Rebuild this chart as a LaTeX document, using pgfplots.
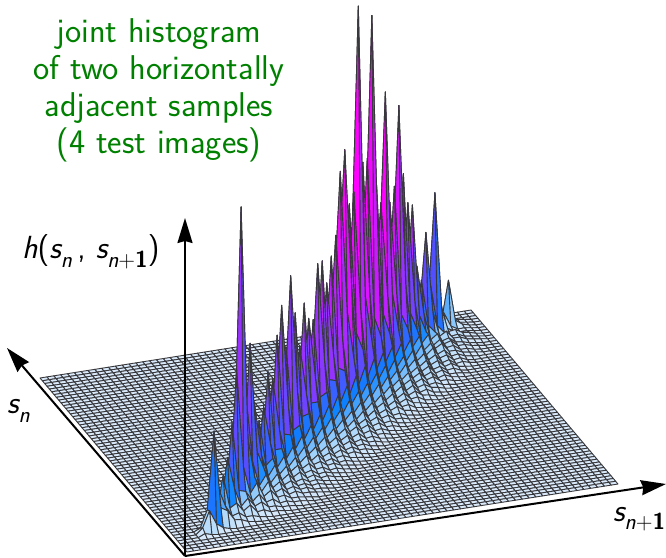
\documentclass[border=0pt]{standalone}
\usepackage{fontspec}
\usepackage{pgfplots}
\pgfplotsset{compat=1.18}
\usetikzlibrary{arrows.meta}
\definecolor{titlegreen}{RGB}{0,128,0}
\definecolor{meshline}{RGB}{56,56,60}
\newcommand\R[2]{\foreach \v [count=\k from 0] in {#2}{%
  \expandafter\xdef\csname zv-\the\numexpr#1-2+\k\relax-#1\endcsname{\v}}}
% rows: j, then heights at i = j-2, j-1, j, j+1, ...
\R{4}{0,0,3,1,0}
\R{5}{0,6,22,8,3,1,0}
\R{6}{3,20,98,20,16,6,5,2,1,0}
\R{7}{1,5,36,18,7,9,4,4,2,1,0}
\R{8}{1,6,45,12,16,7,12,4,5,2,2,1,0}
\R{9}{2,8,60,28,9,16,7,10,4,4,2,2,1,0}
\R{10}{2,12,90,22,20,9,15,6,8,3,4,2,2,1,0}
\R{11}{4,20,140,42,14,24,9,14,6,7,3,3,2,1,0}
\R{12}{12,55,299,66,26,11,20,8,11,4,6,3,3,2,1,0}
\R{13}{5,22,110,40,14,24,10,15,6,8,4,5,2,2,1,0}
\R{14}{8,30,155,46,28,12,20,8,11,5,6,3,4,2,1,0}
\R{15}{3,12,90,38,16,26,10,15,6,8,4,5,3,2,1,0}
\R{16}{3,10,70,24,30,13,20,8,12,5,7,3,4,2,1,0}
\R{17}{3,14,80,42,17,27,11,16,7,9,4,5,3,2,1,0}
\R{18}{5,20,111,32,32,13,21,9,13,6,7,3,4,2,1,0}
\R{19}{5,18,100,48,18,29,12,18,8,10,5,6,3,2,1,0}
\R{20}{8,28,140,40,38,15,24,9,14,6,8,3,4,2,1,0}
\R{21}{12,42,166,62,20,32,13,19,8,11,5,6,3,2,1,0}
\R{22}{8,28,120,36,40,16,26,10,15,6,9,4,5,2,1,0}
\R{23}{13,50,188,70,22,35,14,21,8,12,5,7,3,3,1,0}
\R{24}{10,38,147,42,44,18,28,11,16,7,10,4,5,2,1,0}
\R{25}{8,28,110,60,24,38,14,22,9,13,5,7,3,3,1,0}
\R{26}{12,40,149,48,48,19,30,12,17,7,10,4,5,2,1,0}
\R{27}{10,36,130,68,25,40,15,23,10,14,6,8,3,3,1,0}
\R{28}{10,36,125,46,50,20,30,12,18,8,11,4,5,2,1,0}
\R{29}{16,54,177,78,26,42,16,24,10,14,6,8,3,3,1,0}
\R{30}{16,54,176,56,54,20,32,12,19,8,11,4,5,2,1,0}
\R{31}{12,46,150,76,28,44,16,25,10,15,6,8,3,3,1,0}
\R{32}{16,54,173,60,56,22,33,13,20,8,11,4,5,2,1,0}
\R{33}{24,70,190,84,28,46,17,26,11,15,6,9,4,3,1,0}
\R{34}{40,120,250,110,60,22,34,13,20,8,12,5,6,2,1,0}
\R{35}{60,140,268,130,30,48,18,28,11,16,6,9,4,3,1,0}
\R{36}{34,84,210,80,62,24,36,14,21,8,12,5,6,2,1,0}
\R{37}{34,88,218,100,30,48,18,28,11,16,6,9,4,3,1,0}
\R{38}{60,150,400,110,62,24,36,14,20,8,12,4,6,2,1,0}
\R{39}{40,100,240,110,30,46,18,26,11,15,6,8,4,3,1,0}
\R{40}{40,100,240,80,60,22,34,13,19,8,11,4,5,2,1,0}
\R{41}{60,140,379,130,30,44,16,25,10,14,6,8,3,3,1,0}
\R{42}{34,84,210,76,54,20,30,12,17,7,10,3,5,2,1,0}
\R{43}{30,76,184,90,26,40,15,22,9,13,5,7,2,2,1,0}
\R{44}{44,110,291,90,48,18,28,11,16,6,8,3,4,1,0}
\R{45}{28,70,177,84,24,36,14,20,8,11,4,6,2,1,0}
\R{46}{30,72,189,60,44,16,26,10,14,5,7,2,3,1,0}
\R{47}{40,100,266,86,22,32,12,18,7,9,3,4,1,0}
\R{48}{30,70,194,54,36,14,20,8,11,4,5,2,1,0}
\R{49}{22,56,161,62,18,26,11,15,6,6,3,2,1,0}
\R{50}{20,54,155,44,26,11,16,7,8,3,3,1,0}
\R{51}{12,30,90,42,14,19,8,10,4,4,2,1,0}
\R{52}{8,22,72,26,18,8,10,5,4,2,1,0}
\R{53}{14,36,116,36,10,14,6,6,3,2,1,0}
\R{54}{8,20,60,18,10,5,6,3,2,1,0}
\R{55}{16,40,148,30,7,8,4,3,1,0}
\R{56}{3,9,40,8,4,2,2,1,0}
\R{57}{2,5,20,6,2,2,1,0}
\R{58}{4,10,49,8,3,1,0}
\R{59}{1,3,5,2,1,0}
\R{60}{0,1,2,1,0}
\gdef\acc{}
\foreach \jj in {63,62,...,0}{\foreach \ii in {63,62,...,0}{%
  \ifcsname zv-\ii-\jj\endcsname
    \xdef\acc{\acc(\ii,\jj,\csname zv-\ii-\jj\endcsname)}%
  \else
    \xdef\acc{\acc(\ii,\jj,0)}%
  \fi}}
\pgfplotsset{histsurf/.style={surf,shader=faceted,faceted color=meshline,
  line width=0.9pt,line join=round,z buffer=none,mesh/rows=64,mesh/cols=64,
  point meta=z,point meta min=0,point meta max=92}}
\newcommand\sub[1]{\raisebox{-0.28em}{\fontsize{23}{23}\selectfont #1}}
\begin{document}
\begin{tikzpicture}[x=1pt,y=1pt]
\useasboundingbox (0,0) rectangle (666,557);
\begin{axis}[at={(187pt,5pt)},anchor=origin,hide axis,clip=false,
  x={(6.841pt,1.079pt)},y={(-2.333pt,2.762pt)},z={(0pt,1pt)},
  xmin=0,xmax=63,ymin=0,ymax=63,zmin=0,zmax=420,
  colormap={hist}{rgb255(0pt)=(218,234,250) rgb255(14pt)=(160,210,250)
    rgb255(30pt)=(10,130,255) rgb255(52pt)=(80,80,255)
    rgb255(70pt)=(150,50,255) rgb255(92pt)=(255,0,255)}]
\edef\plotcmd{\noexpand\addplot3[histsurf] coordinates {\acc};}
\plotcmd
\end{axis}
\draw[line width=2pt,-{Stealth[length=25pt,width=15pt,inset=2pt]}] (185,1) -- (185,339);
\draw[line width=2pt,-{Stealth[length=25pt,width=15pt,inset=2pt]}] (185,1) -- (7,209);
\draw[line width=2pt,-{Stealth[length=25pt,width=15pt,inset=2pt]}] (185,1) -- (666,73);
\node[align=center,text=titlegreen,font=\sffamily\fontsize{34.4}{37}\selectfont] at (159,467)
  {joint histogram\\of two horizontally\\adjacent samples\\(4 test images)};
\node[anchor=base west,inner sep=0,font=\sffamily\fontsize{32}{36}\selectfont] at (22,298)
  {{\slshape h}({\slshape s}\sub{\slshape n}\,, {\slshape s}\sub{{\slshape n}+\textbf{1}})};
\node[anchor=base west,inner sep=0,font=\sffamily\fontsize{32}{36}\selectfont] at (7,143)
  {{\slshape s}\sub{\slshape n}};
\node[anchor=base west,inner sep=0,font=\sffamily\fontsize{32}{36}\selectfont] at (613,36)
  {{\slshape s}\sub{{\slshape n}+\textbf{1}}};
\end{tikzpicture}
\end{document}
